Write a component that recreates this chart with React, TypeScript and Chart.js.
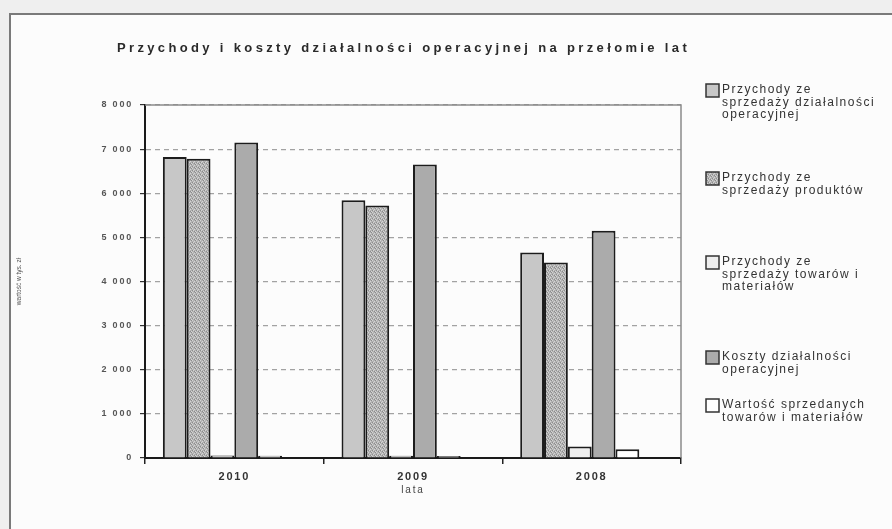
import { useEffect, useRef } from 'react';
import { Chart, registerables } from 'chart.js';

Chart.register(...registerables);

// Categories and series (values in thousands of złoty)
const years = ['2010', '2009', '2008'];

const seriesLines = [
  ['Przychody ze', 'sprzedaży działalności', 'operacyjnej'],
  ['Przychody ze', 'sprzedaży produktów'],
  ['Przychody ze', 'sprzedaży towarów i', 'materiałów'],
  ['Koszty działalności', 'operacyjnej'],
  ['Wartość sprzedanych', 'towarów i materiałów'],
];

const revenueOperating = [6820, 5840, 4660];
const revenueProducts = [6780, 5720, 4430];
const revenueGoods = [55, 50, 260];
const operatingCosts = [7150, 6650, 5150];
const goodsSoldValue = [50, 45, 200];

const yMax = 8000;
const yStep = 1000;

const chartTitle = 'Przychody i koszty działalności operacyjnej na przełomie lat';
const yTitle = 'wartość w tys. zł';
const xTitle = 'lata';

const FONT = '"Liberation Sans", Arial, sans-serif';

function formatThousands(v: number): string {
  return String(v).replace(/\B(?=(\d{3})+(?!\d))/g, ' ');
}

// Small deterministic mottled tile for the "products" series fill
function makeSpeckle(): CanvasPattern | string {
  const c = document.createElement('canvas');
  c.width = 4;
  c.height = 4;
  const g = c.getContext('2d');
  if (!g) return '#b0b0b0';
  g.fillStyle = '#b2b2b2';
  g.fillRect(0, 0, 4, 4);
  g.fillStyle = '#d4d4d4';
  [[0, 0], [2, 1], [1, 2], [3, 3]].forEach(([x, y]) => g.fillRect(x, y, 1, 1));
  g.fillStyle = '#8c8c8c';
  [[2, 3], [3, 0], [0, 2]].forEach(([x, y]) => g.fillRect(x, y, 1, 1));
  return g.createPattern(c, 'repeat') || '#b0b0b0';
}

// Legend layout: first-line centre of each entry
const legendFirstLine = [90, 178, 262, 357, 405];
const legendLineHeight = 12.4;

export default function App() {
  const ref = useRef<HTMLCanvasElement>(null);

  useEffect(() => {
    const canvas = ref.current;
    if (!canvas) return;
    const ctx = canvas.getContext('2d');
    if (!ctx) return;

    const speckle = makeSpeckle();
    const fills: (string | CanvasPattern)[] = ['#c7c7c7', speckle, '#eeeeee', '#ababab', '#ffffff'];
    const values = [revenueOperating, revenueProducts, revenueGoods, operatingCosts, goodsSoldValue];

    const datasets: any[] = values.map((data, i) => ({
      label: seriesLines[i].join(' '),
      data,
      backgroundColor: fills[i],
      borderColor: '#1c1c1c',
      borderWidth: 2,
      categoryPercentage: 0.8,
      barPercentage: 1.0,
    }));
    // empty trailing slot keeps each group left of its category centre
    datasets.push({
      label: '',
      data: years.map(() => null),
      backgroundColor: 'transparent',
      borderWidth: 0,
      categoryPercentage: 0.8,
      barPercentage: 1.0,
    });

    const decor = {
      id: 'decor',
      beforeDraw(chart: any) {
        const c = chart.ctx as CanvasRenderingContext2D;
        const W = chart.width;
        const H = chart.height;
        c.save();
        c.fillStyle = '#efefef';
        c.fillRect(0, 0, W, H);
        c.fillStyle = '#fcfcfc';
        c.fillRect(10, 14, W, H);
        c.strokeStyle = '#7a7a7a';
        c.lineWidth = 2;
        c.beginPath();
        c.moveTo(10, H + 2);
        c.lineTo(10, 14);
        c.lineTo(W + 2, 14);
        c.stroke();
        c.restore();
        (c as any).letterSpacing = '1.8px';
      },
      afterDraw(chart: any) {
        const c = chart.ctx as CanvasRenderingContext2D;
        const a = chart.chartArea;
        c.save();
        // plot frame (top and right)
        c.strokeStyle = '#8a8a8a';
        c.lineWidth = 1.5;
        c.setLineDash([]);
        c.beginPath();
        c.moveTo(a.left, a.top);
        c.lineTo(a.right, a.top);
        c.lineTo(a.right, a.bottom);
        c.stroke();

        // chart title
        c.fillStyle = '#2a2a2a';
        c.font = `bold 13px ${FONT}`;
        c.textBaseline = 'middle';
        c.textAlign = 'left';
        (c as any).letterSpacing = '0px';
        const natural = c.measureText(chartTitle).width;
        const spacing = Math.max(0, (573 - natural) / chartTitle.length);
        (c as any).letterSpacing = `${spacing.toFixed(2)}px`;
        c.fillText(chartTitle, 117, 48);

        // y axis title
        (c as any).letterSpacing = '0px';
        c.save();
        c.translate(19, (a.top + a.bottom) / 2);
        c.rotate(-Math.PI / 2);
        c.textAlign = 'center';
        c.font = `6.5px ${FONT}`;
        c.fillStyle = '#555';
        c.fillText(yTitle, 0, 0);
        c.restore();

        // legend
        const boxX = 706;
        const box = 13;
        const textX = 722;
        c.font = `12px ${FONT}`;
        (c as any).letterSpacing = '1.5px';
        c.textAlign = 'left';
        c.textBaseline = 'middle';
        seriesLines.forEach((lines, i) => {
          const y0 = legendFirstLine[i];
          c.fillStyle = fills[i] as any;
          c.fillRect(boxX, y0 - 6, box, box);
          c.strokeStyle = '#333';
          c.lineWidth = 1.5;
          c.strokeRect(boxX, y0 - 6, box, box);
          c.fillStyle = '#333';
          lines.forEach((t, j) => c.fillText(t, textX, y0 + j * legendLineHeight));
        });
        c.restore();
      },
    };

    const chart = new Chart(ctx, {
      type: 'bar',
      data: { labels: years, datasets },
      options: {
        animation: false,
        responsive: false,
        events: [],
        layout: { padding: { left: 10, right: 211, top: 105, bottom: 0 } },
        plugins: {
          legend: { display: false },
          title: { display: false },
          tooltip: { enabled: false },
        },
        scales: {
          x: {
            grid: {
              display: true,
              drawOnChartArea: false,
              offset: true,
              color: '#222',
              lineWidth: 1.5,
              tickLength: 6,
            },
            border: { color: '#1a1a1a', width: 2 },
            ticks: {
              color: '#333',
              font: { family: FONT, size: 11, weight: 'bold' },
              padding: 6,
              maxRotation: 0,
            },
            title: {
              display: true,
              text: xTitle,
              color: '#444',
              font: { family: FONT, size: 10 },
              padding: { top: 0, bottom: 33 },
            },
            afterFit: (s: any) => {
              s.height = 71;
            },
          },
          y: {
            min: 0,
            max: yMax,
            ticks: {
              stepSize: yStep,
              color: '#555',
              font: { family: FONT, size: 9, weight: 'bold' },
              padding: 7,
              callback: (v: any) => formatThousands(Number(v)),
            },
            grid: {
              color: '#a2a2a2',
              lineWidth: 1.2,
              tickLength: 5,
              tickColor: '#333',
              tickWidth: 1.2,
              tickBorderDash: [],
            },
            border: { color: '#1a1a1a', width: 2, dash: [5, 4] },
            afterFit: (s: any) => {
              s.width = 135;
            },
          },
        },
      } as any,
      plugins: [decor],
    });

    return () => chart.destroy();
  }, []);

  return (
    <div style={{ position: 'fixed', left: 0, top: 0, width: 892, height: 529 }}>
      <canvas ref={ref} width={892} height={529} style={{ display: 'block' }} />
    </div>
  );
}
